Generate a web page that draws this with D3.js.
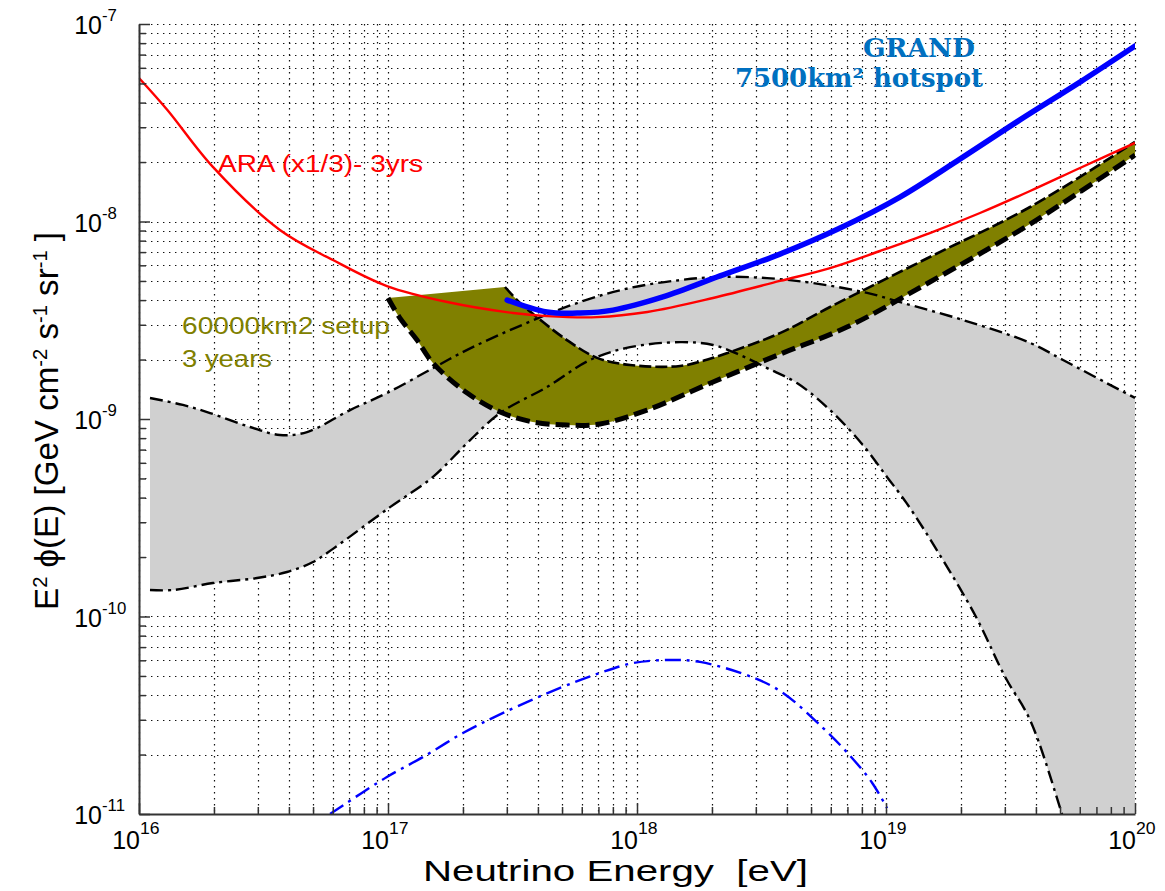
<!DOCTYPE html>
<html>
<head>
<meta charset="utf-8">
<script src="https://cdn.jsdelivr.net/npm/d3@7"></script>
<style>
  body { margin: 0; background: #fff; }
  svg { display: block; }
</style>
</head>
<body>
<svg id="chart" width="1165" height="891"></svg>
<script>
// ---- data: [energy (eV), E^2 flux (GeV cm^-2 s^-1 sr^-1)] ----
const araCurve = [
  [1.00e16, 5.33e-8], [1.30e16, 3.67e-8], [1.98e16, 1.89e-8], [3.68e16, 9.06e-9],
  [6.01e16, 6.38e-9], [9.90e16, 4.71e-9], [1.73e17, 3.91e-9], [3.18e17, 3.44e-9],
  [4.35e17, 3.32e-9], [6.91e17, 3.28e-9], [1.10e18, 3.48e-9], [2.02e18, 4.10e-9],
  [3.75e18, 5.00e-9], [5.96e18, 5.81e-9], [9.46e18, 7.09e-9], [1.50e19, 8.74e-9],
  [2.385e19, 1.104e-8], [3.79e19, 1.427e-8], [6.01e19, 1.866e-8], [1.00e20, 2.50e-8]
];

const grandHotspot = [
  [3.01e17, 4.00e-9], [4.35e17, 3.48e-9], [5.91e17, 3.44e-9], [8.01e17, 3.56e-9],
  [1.27e18, 4.15e-9], [2.154e18, 5.30e-9], [3.75e18, 6.84e-9], [6.54e18, 9.27e-9],
  [1.138e19, 1.33e-8], [1.98e19, 2.07e-8], [3.45e19, 3.27e-8], [6.01e19, 5.08e-8],
  [1.00e20, 7.74e-8]
];

const lowFluxModel = [
  [5.85e16, 1.00e-11], [9.90e16, 1.54e-11], [1.38e17, 1.94e-11], [2.00e17, 2.57e-11],
  [2.90e17, 3.25e-11], [4.91e17, 4.35e-11], [7.10e17, 5.18e-11], [9.64e17, 5.81e-11],
  [1.32e18, 6.02e-11], [1.79e18, 5.89e-11], [2.95e18, 4.89e-11], [3.86e18, 4.10e-11],
  [5.53e18, 2.76e-11], [7.23e18, 1.95e-11], [8.79e18, 1.44e-11], [1.01e19, 1.07e-11]
];

// cosmogenic flux range: upper and lower envelopes
const bandUpper = [
  [1.107e16, 1.277e-9], [1.50e16, 1.178e-9], [1.93e16, 1.072e-9], [2.79e16, 9.11e-10],
  [3.68e16, 8.30e-10], [4.73e16, 8.59e-10], [7.04e16, 1.11e-9], [9.91e16, 1.354e-9],
  [1.516e17, 1.81e-9], [2.08e17, 2.24e-9], [3.30e17, 2.92e-9], [5.90e17, 3.91e-9],
  [9.38e17, 4.61e-9], [1.49e18, 5.05e-9], [2.15e18, 5.24e-9], [3.33e18, 5.17e-9],
  [5.09e18, 4.88e-9], [8.40e18, 4.35e-9], [1.17e19, 3.87e-9], [2.04e19, 3.17e-9],
  [3.79e19, 2.43e-9], [5.14e19, 1.99e-9], [8.71e19, 1.40e-9], [1.00e20, 1.28e-9]
];
const bandLower = [
  [1.107e16, 1.362e-10], [1.37e16, 1.362e-10], [1.98e16, 1.477e-10], [2.98e16, 1.566e-10],
  [3.93e16, 1.68e-10], [5.00e16, 1.887e-10], [6.01e16, 2.20e-10], [1.019e17, 3.58e-10],
  [1.516e17, 5.09e-10], [2.08e17, 7.56e-10], [2.82e17, 1.072e-9], [4.35e17, 1.452e-9],
  [6.48e17, 1.99e-9], [9.38e17, 2.31e-9], [1.49e18, 2.45e-9], [2.02e18, 2.37e-9],
  [2.59e18, 2.11e-9], [3.33e18, 1.81e-9], [4.39e18, 1.52e-9], [5.96e18, 1.11e-9],
  [8.08e18, 7.38e-10], [1.009e19, 5.09e-10], [1.21e19, 3.75e-10], [1.60e19, 2.17e-10],
  [2.30e19, 9.94e-11], [3.01e19, 4.94e-11], [3.79e19, 2.99e-11], [5.09e19, 1.00e-11],
  [5.48e19, 7.4e-12]
];

// 60000 km2 setup, 3 years
const setupTopEdge = [[1.00e17, 4.10e-9], [2.95e17, 4.66e-9]];
const setupUpper = [
  [2.95e17, 4.66e-9], [3.39e17, 3.87e-9], [3.96e17, 3.28e-9], [5.23e17, 2.51e-9],
  [6.91e17, 2.04e-9], [9.38e17, 1.877e-9], [1.49e18, 1.855e-9], [2.02e18, 2.04e-9],
  [2.36e18, 2.18e-9], [3.75e18, 2.72e-9], [5.96e18, 3.69e-9], [1.50e19, 6.61e-9],
  [3.79e19, 1.184e-8], [1.00e20, 2.53e-8]
];
const setupLower = [
  [1.00e17, 4.10e-9], [1.117e17, 3.24e-9], [1.308e17, 2.51e-9], [1.516e17, 1.92e-9],
  [2.08e17, 1.354e-9], [2.82e17, 1.085e-9], [3.82e17, 9.66e-10], [5.23e17, 9.32e-10],
  [7.10e17, 9.43e-10], [1.097e18, 1.11e-9], [2.02e18, 1.54e-9], [3.75e18, 2.13e-9],
  [6.97e18, 2.92e-9], [1.50e19, 4.94e-9], [3.79e19, 9.71e-9], [1.00e20, 2.17e-8]
];

const xTickExponents = [16, 17, 18, 19, 20];
const yTickExponents = [-7, -8, -9, -10, -11];

// ---- layout ----
const plot = { left: 139, top: 24, right: 1135, bottom: 814 };
const svg = d3.select('#chart');

const x = d3.scaleLog().domain([1e16, 1e20]).range([plot.left, plot.right]);
const y = d3.scaleLog().domain([1e-11, 1e-7]).range([plot.bottom, plot.top]);

svg.append('defs').append('clipPath').attr('id', 'plotClip')
  .append('rect')
  .attr('x', plot.left).attr('y', plot.top)
  .attr('width', plot.right - plot.left).attr('height', plot.bottom - plot.top);

// ---- dotted grid at every decade subdivision ----
const grid = svg.append('g').attr('stroke', '#111').attr('stroke-dasharray', '1.4,4.6');
const snap = v => Math.round(v) + 0.5;
x.ticks().forEach(v => {
  grid.append('line')
    .attr('x1', snap(x(v))).attr('x2', snap(x(v)))
    .attr('y1', plot.top).attr('y2', plot.bottom)
    .attr('stroke-width', 1.2);
});
y.ticks().forEach(v => {
  grid.append('line')
    .attr('x1', plot.left).attr('x2', plot.right)
    .attr('y1', snap(y(v))).attr('y2', snap(y(v)))
    .attr('stroke-width', 1.2);
});

// ---- generators ----
const smooth = d3.line().x(d => x(d[0])).y(d => y(d[1])).curve(d3.curveCatmullRom.alpha(0.5));
const straight = d3.line().x(d => x(d[0])).y(d => y(d[1]));
const cont = p => p.replace(/^M/, 'L');

const plotArea = svg.append('g').attr('clip-path', 'url(#plotClip)');

// cosmogenic range (grey band)
const farCorner = [x.domain()[1], y.domain()[0] / 2];
const bandPath = smooth(bandUpper)
  + 'L' + x(farCorner[0]) + ',' + y(farCorner[1])
  + cont(smooth(bandLower.slice().reverse())) + 'Z';
plotArea.append('path').attr('d', bandPath).attr('fill', '#d0d0d0').attr('stroke', 'none');

// 60000 km2 setup (olive band)
const setupPath = straight(setupTopEdge)
  + cont(smooth(setupUpper))
  + cont(smooth(setupLower.slice().reverse())) + 'Z';
plotArea.append('path').attr('d', setupPath).attr('fill', '#808000').attr('stroke', 'none');

// band envelopes
[bandUpper, bandLower].forEach(curve => {
  plotArea.append('path').attr('d', smooth(curve))
    .attr('fill', 'none').attr('stroke', '#000').attr('stroke-width', 2.4)
    .attr('stroke-dasharray', '13,5,3,5');
});

plotArea.append('path').attr('d', smooth(setupUpper))
  .attr('fill', 'none').attr('stroke', '#000').attr('stroke-width', 2.6)
  .attr('stroke-dasharray', '12,4');
plotArea.append('path').attr('d', smooth(setupLower))
  .attr('fill', 'none').attr('stroke', '#000').attr('stroke-width', 5)
  .attr('stroke-dasharray', '14,6');

// low flux model
plotArea.append('path').attr('d', smooth(lowFluxModel))
  .attr('fill', 'none').attr('stroke', '#0000ff').attr('stroke-width', 2.4)
  .attr('stroke-dasharray', '16,6,3,6');

// ARA
plotArea.append('path').attr('d', smooth(araCurve))
  .attr('fill', 'none').attr('stroke', '#ff0000').attr('stroke-width', 2.4);

// GRAND hotspot
plotArea.append('path').attr('d', smooth(grandHotspot))
  .attr('fill', 'none').attr('stroke', '#0000ff').attr('stroke-width', 5.5)
  .attr('stroke-linecap', 'round');

// ---- axes (inward ticks) ----
const isMajor = (v) => Math.abs(Math.log10(v) - Math.round(Math.log10(v))) < 1e-6;

const axisStyle = g => {
  g.select('.domain').attr('stroke', '#333').attr('stroke-width', 2);
  g.selectAll('.tick line').attr('stroke', '#333').attr('stroke-width', 1.5);
  g.selectAll('.tick text').remove();
};

svg.append('g')
  .attr('transform', `translate(0,${plot.bottom})`)
  .call(d3.axisBottom(x).tickValues(x.ticks())
    .tickSizeInner(0).tickSizeOuter(0).tickFormat(''))
  .call(g => g.selectAll('.tick line')
    .attr('y2', d => isMajor(d) ? -11 : -7))
  .call(axisStyle);

svg.append('g')
  .attr('transform', `translate(${plot.left},0)`)
  .call(d3.axisLeft(y).tickValues(y.ticks())
    .tickSizeInner(0).tickSizeOuter(0).tickFormat(''))
  .call(g => g.selectAll('.tick line')
    .attr('x2', d => isMajor(d) ? 11 : 7))
  .call(axisStyle);

// ---- tick labels: 10 with superscript exponent ----
const sans = "'Liberation Sans', Arial, Helvetica, sans-serif";
function stretchedText(parent, tx, ty, str, size, anchor, sx) {
  return parent.append('text')
    .attr('transform', `translate(${tx},${ty}) scale(${sx},1)`)
    .attr('font-family', sans).attr('font-size', size)
    .attr('text-anchor', anchor).attr('fill', '#000')
    .text(str);
}
const labels = svg.append('g');
xTickExponents.forEach(e => {
  const px = x(Math.pow(10, e));
  stretchedText(labels, px + 1, 849, '10', 25, 'end', 1.0);
  stretchedText(labels, px + 1, 834, String(e), 16, 'start', 1.1);
});
yTickExponents.forEach(e => {
  const py = y(Math.pow(10, e));
  stretchedText(labels, 102, py + 10, '10', 25, 'end', 1.0);
  stretchedText(labels, 102, py - 3, String(e), 16, 'start', 1.05);
});

// ---- axis titles ----
svg.append('text')
  .attr('x', 423).attr('y', 881)
  .attr('font-family', sans).attr('font-size', 30)
  .attr('textLength', 385).attr('lengthAdjust', 'spacingAndGlyphs')
  .style('white-space', 'pre')
  .text('Neutrino Energy  [eV]');

const yTitle = svg.append('text')
  .attr('transform', 'translate(58,421) rotate(-90)')
  .attr('text-anchor', 'middle')
  .attr('font-family', sans).attr('font-size', 33)
  .attr('textLength', 378).attr('lengthAdjust', 'spacingAndGlyphs');
const yParts = [
  ['E', false], ['2', true], [' \u03D5(E) [GeV cm', false], ['-2', true],
  [' s', false], ['-1', true], [' sr', false], ['-1', true], [' ]', false]
];
yParts.forEach(([t, sup]) => {
  const ts = yTitle.append('tspan').text(t);
  if (sup) ts.attr('font-size', 20).attr('baseline-shift', '55%');
});

// ---- annotations ----
svg.append('text')
  .attr('x', 218).attr('y', 172)
  .attr('font-family', sans).attr('font-size', 23).attr('fill', '#ff0000')
  .attr('textLength', 205).attr('lengthAdjust', 'spacingAndGlyphs')
  .text('ARA (x1/3)- 3yrs');

svg.append('text')
  .attr('x', 182).attr('y', 334)
  .attr('font-family', sans).attr('font-size', 24).attr('fill', '#808000')
  .attr('textLength', 208).attr('lengthAdjust', 'spacingAndGlyphs')
  .text('60000km2 setup');
svg.append('text')
  .attr('x', 182).attr('y', 367)
  .attr('font-family', sans).attr('font-size', 24).attr('fill', '#808000')
  .attr('textLength', 90).attr('lengthAdjust', 'spacingAndGlyphs')
  .text('3 years');

const serif = "'DejaVu Serif', 'Liberation Serif', serif";
svg.append('text')
  .attr('x', 863).attr('y', 57)
  .attr('font-family', serif).attr('font-weight', 'bold').attr('font-size', 26)
  .attr('fill', '#0070c0')
  .attr('textLength', 112).attr('lengthAdjust', 'spacingAndGlyphs')
  .text('GRAND');
svg.append('text')
  .attr('x', 735).attr('y', 87)
  .attr('font-family', serif).attr('font-weight', 'bold').attr('font-size', 26)
  .attr('fill', '#0070c0')
  .attr('textLength', 248).attr('lengthAdjust', 'spacingAndGlyphs')
  .text('7500km\u00B2 hotspot');
</script>
</body>
</html>
